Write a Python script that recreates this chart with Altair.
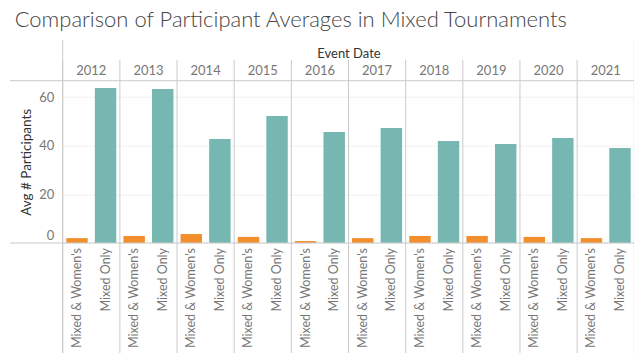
import altair as alt
import pandas as pd

years = ["2012", "2013", "2014", "2015", "2016", "2017", "2018", "2019", "2020", "2021"]
categories = ["Mixed & Women's", "Mixed Only"]
mixed_womens = [2.0, 2.9, 3.7, 2.5, 0.8, 2.0, 2.9, 2.9, 2.5, 2.0]
mixed_only = [63.7, 63.3, 42.7, 52.2, 45.6, 47.3, 41.9, 40.7, 43.2, 39.0]

rows = []
for i, y in enumerate(years):
    rows.append({"year": y, "category": categories[0], "value": mixed_womens[i]})
    rows.append({"year": y, "category": categories[1], "value": mixed_only[i]})
df = pd.DataFrame(rows)

W = 571.6
H = 162.3
LINE = "#cbcbcb"
FONT = "Lato"

x_axis = alt.Axis(
    orient="top", labelAngle=0, domain=False, ticks=False, grid=False,
    labelFontSize=13, labelColor="#777777", labelPadding=3, labelFont=FONT,
    titleFontSize=13, titleColor="#333333", titleFontWeight="normal",
    titlePadding=4, titleFont=FONT,
)
x_scale = alt.Scale(paddingInner=0, paddingOuter=0)


def x_enc(**kw):
    return alt.X("year:O", sort=years, title="Event Date", scale=x_scale, axis=x_axis, **kw)


xoff_enc = alt.XOffset(
    "category:N", sort=categories,
    scale=alt.Scale(paddingInner=0.25, paddingOuter=0.125),
)

base = alt.Chart(df)

bars = base.mark_bar().encode(
    x=x_enc(),
    xOffset=xoff_enc,
    y=alt.Y(
        "value:Q",
        title="Avg # Participants",
        scale=alt.Scale(domain=[0, 66.7], nice=False, zero=True),
        axis=alt.Axis(
            values=[0, 20, 40, 60], grid=True, gridColor="#f0f0f0", domain=False,
            ticks=False, labelFontSize=13, labelColor="#777777", labelPadding=9,
            labelFont=FONT, labelFlush=True, labelFlushOffset=0,
            titleFontSize=13.5, titleColor="#333333", titleFontWeight="normal",
            titlePadding=5, titleFont=FONT,
        ),
    ),
    color=alt.Color(
        "category:N",
        scale=alt.Scale(domain=categories, range=["#F28E2B", "#76B7B2"]),
        legend=None,
    ),
)

one_per_year = base.transform_filter(alt.datum.category == categories[1])

sep_rules = one_per_year.mark_rule(color=LINE, strokeWidth=1).encode(
    x=x_enc(bandPosition=0),
    y=alt.value(-20.7),
    y2=alt.value(361 - 80.7),
)

edge_rules = base.transform_filter(
    (alt.datum.year == years[0]) & (alt.datum.category == categories[1])
).mark_rule(color=LINE, strokeWidth=1)

left_edge = edge_rules.encode(x=alt.value(0), y=alt.value(-40.7), y2=alt.value(361 - 80.7))
right_edge = edge_rules.encode(x=alt.value(W), y=alt.value(-40.7), y2=alt.value(361 - 80.7))
top_line = edge_rules.encode(x=alt.value(-52.7), x2=alt.value(W), y=alt.value(0))
bottom_line = edge_rules.encode(x=alt.value(-52.7), x2=alt.value(W), y=alt.value(H))

cat_labels = base.mark_text(
    angle=270, align="right", baseline="middle", fontSize=12.5,
    color="#777777", font=FONT,
).encode(
    x=x_enc(),
    xOffset=xoff_enc,
    y=alt.value(H + 5),
    text="category:N",
)

chart = alt.layer(
    bars, sep_rules, left_edge, right_edge, top_line, bottom_line, cat_labels
).properties(
    width=W,
    height=H,
    title=alt.TitleParams(
        "Comparison of Participant Averages in Mixed Tournaments",
        anchor="start", frame="group", dx=-48, offset=8,
        fontSize=22, font=FONT, fontWeight=300, color="#444444",
    ),
    autosize=alt.AutoSizeParams(type="none"),
    padding={"left": 54.7, "top": 72.7, "right": 0, "bottom": 110},
).configure_view(stroke=None)

chart.save("out.html", embed_options={"renderer": "svg", "actions": False})
